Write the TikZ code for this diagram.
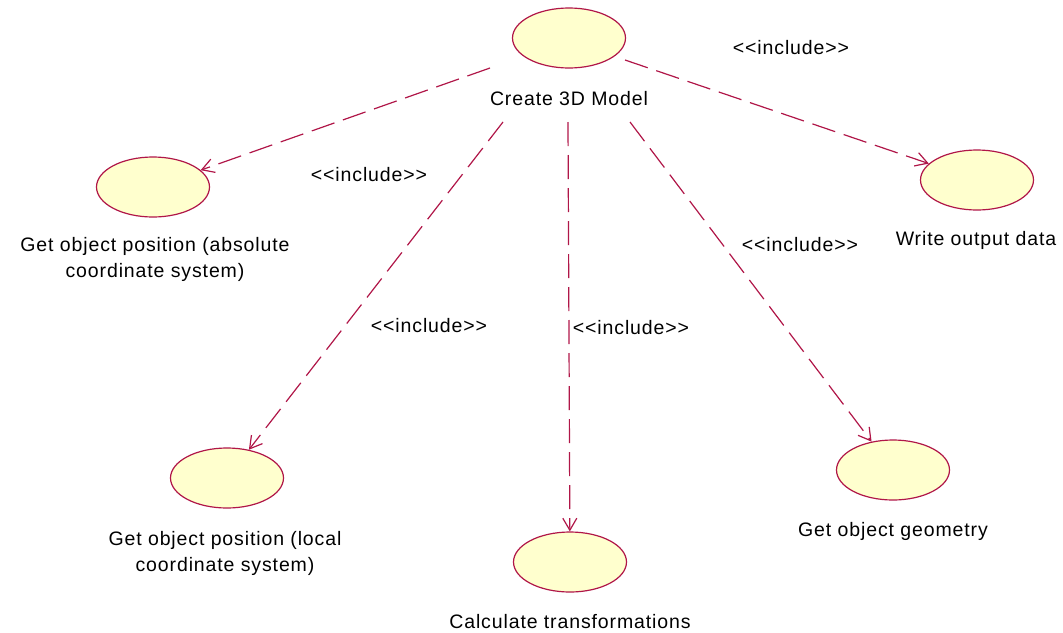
\documentclass[tikz,border=0pt]{standalone}
\usepackage{fontspec}
\setmainfont{Liberation Sans}[LetterSpace=4.5]
\usetikzlibrary{arrows.meta,shapes.geometric}
\definecolor{umlline}{RGB}{176,22,72}
\definecolor{umlfill}{RGB}{255,255,206}
\newcommand{\inclabel}{<{}<include>{}>}
\begin{document}
\begin{tikzpicture}[x=1pt,y=-1pt,
  usecase/.style={ellipse,draw=umlline,fill=umlfill,line width=1.2pt,
    minimum width=113pt,minimum height=60pt,inner sep=0pt},
  caption/.style={align=center,inner sep=0pt,font=\fontsize{19.5}{26}\selectfont},
  stereo/.style={inner sep=0pt,font=\fontsize{19.5}{26}\selectfont},
  incl/.style={draw=umlline,line width=1.2pt,dash pattern=on 24pt off 9pt,
    -{Straight Barb[length=12pt,width=14pt,line width=1.2pt]}}]
\useasboundingbox (0,0) rectangle (1063,632);

% use cases
\node[usecase] (create) at (569,38) {};
\node[caption] (createlbl) at (569,99) {Create 3D Model};
\node[usecase] (abs) at (153,187) {};
\node[caption] (abslbl) at (155,259) {Get object position (absolute\\coordinate system)};
\node[usecase] (write) at (977,180) {};
\node[caption] (writelbl) at (976,240) {Write output data};
\node[usecase] (local) at (227,478) {};
\node[caption] (locallbl) at (225,553) {Get object position (local\\coordinate system)};
\node[usecase] (calc) at (570,562) {};
\node[caption] (calclbl) at (570,622) {Calculate transformations};
\node[usecase] (geom) at (893,470) {};
\node[caption] (geomlbl) at (893,531) {Get object geometry};

% connector start points around the base use case
\coordinate (s1) at (490,68);
\coordinate (s2) at (503,122);
\coordinate (s3) at (568,122);
\coordinate (s4) at (630,122);
\coordinate (s5) at (625,60);

% include dependencies
\draw[incl] (s1) -- (abs);
\draw[incl] (s2) -- (local);
\draw[incl] (s3) -- (calc);
\draw[incl] (s4) -- (geom);
\draw[incl] (s5) -- (write);

% stereotype labels
\node[stereo] (st5) at (791,48) {\inclabel};
\node[stereo] (st1) at (369,175) {\inclabel};
\node[stereo] (st2) at (429,326) {\inclabel};
\node[stereo] (st3) at (631,328) {\inclabel};
\node[stereo] (st4) at (800,245) {\inclabel};
\end{tikzpicture}
\end{document}
